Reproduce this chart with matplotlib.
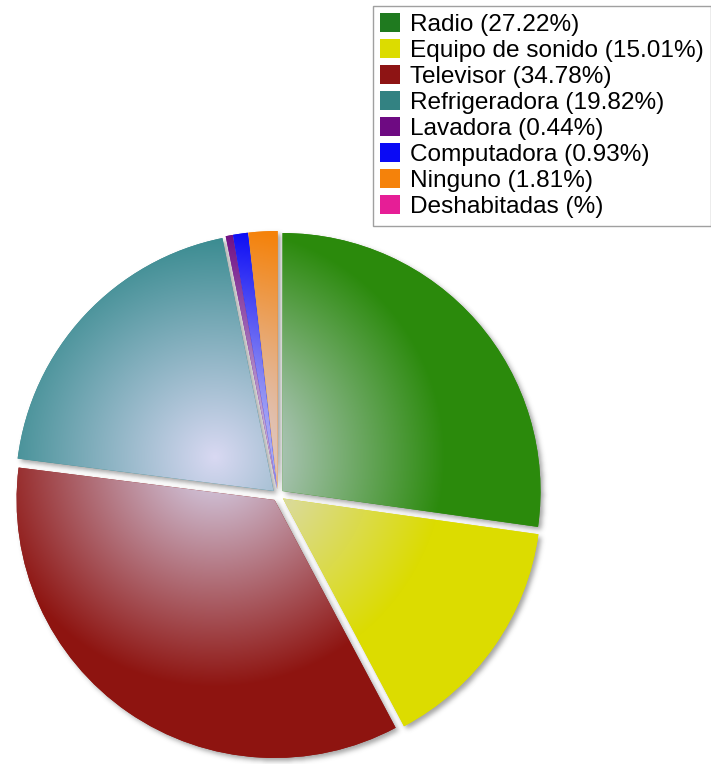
import numpy as np
import matplotlib
matplotlib.use("Agg")
import matplotlib.pyplot as plt
from matplotlib.patches import Patch
from matplotlib.colors import to_rgb

# Household goods share
categories = ["Radio", "Equipo de sonido", "Televisor", "Refrigeradora",
              "Lavadora", "Computadora", "Ninguno", "Deshabitadas"]
percentages = [27.22, 15.01, 34.78, 19.82, 0.44, 0.93, 1.81, 0.0]
legend_values = ["27.22", "15.01", "34.78", "19.82", "0.44", "0.93", "1.81", ""]
slice_colors = ["#2b8a0c", "#dcdc00", "#8e1410", "#33888c",
                "#6e0a82", "#0a0af5", "#f5820a", "#e61e96"]
legend_colors = ["#1f7a1f", "#dcdc00", "#8e1414", "#338282",
                 "#6e0a82", "#0a0af5", "#f5820a", "#e61e96"]

W, H = 711, 764
fig = plt.figure(figsize=(W / 100, H / 100), dpi=100)
ax = fig.add_axes([0, 0, 1, 1])

cx, cy, R = 278, 269, 258
wedges, _ = ax.pie(percentages, center=(cx, cy), radius=R, startangle=90,
                   counterclock=False, explode=[6] * len(percentages),
                   colors=slice_colors, wedgeprops=dict(linewidth=0),
                   frame=False)
ax.set_xlim(0, W)
ax.set_ylim(0, H)
ax.set_aspect("equal")
ax.axis("off")

# pixel grid in data coordinates
xs = np.arange(W) + 0.5
ys = np.arange(H) + 0.5
X, Y = np.meshgrid(xs, ys)
pts = np.column_stack([X.ravel(), Y.ravel()])

# soft drop shadow under the slices
mask = np.zeros(X.size, dtype=float)
for w in wedges:
    if w.theta2 - w.theta1 <= 0:
        continue
    p = w.get_path()
    mask = np.maximum(mask, p.contains_points(pts - np.array([3.0, -3.0])))
mask = mask.reshape(H, W)


def blur(img, sigma):
    rad = int(3 * sigma)
    k = np.exp(-0.5 * (np.arange(-rad, rad + 1) / sigma) ** 2)
    k /= k.sum()
    out = np.apply_along_axis(lambda r: np.convolve(r, k, mode="same"), 1, img)
    out = np.apply_along_axis(lambda c: np.convolve(c, k, mode="same"), 0, out)
    return out


shadow = blur(mask, 2.5)
shadow_rgba = np.zeros((H, W, 4))
shadow_rgba[..., :3] = 0.35
shadow_rgba[..., 3] = shadow * 0.55
ax.imshow(shadow_rgba, extent=(0, W, 0, H), origin="lower", zorder=0.5,
          interpolation="bilinear")

# radial highlight shared by all slices
fx, fy, gr = 215, 307, 230
dist = np.hypot(X - fx, Y - fy)
t = np.clip(dist / gr, 0, 1)[..., None]
light = np.array([0.85, 0.85, 0.95])
for w, c in zip(wedges, slice_colors):
    if w.theta2 - w.theta1 <= 0:
        continue
    base = np.array(to_rgb(c))
    img = light * (1 - t) + base * t
    im = ax.imshow(img, extent=(0, W, 0, H), origin="lower", zorder=2,
                   interpolation="bilinear")
    im.set_clip_path(w)

handles = [Patch(facecolor=c, edgecolor="none") for c in legend_colors]
labels = [f"{n} ({v}%)" for n, v in zip(categories, legend_values)]
leg = fig.legend(handles, labels, loc="upper left",
                 bbox_to_anchor=(373 / W, 1 - 6 / H), bbox_transform=fig.transFigure,
                 borderaxespad=0, frameon=True, fancybox=False,
                 handlelength=0.8, handleheight=0.8, handletextpad=0.4,
                 labelspacing=0.13, borderpad=0.3,
                 prop={"family": "Liberation Sans", "size": 17.6})
leg.get_frame().set_edgecolor("#888888")
leg.get_frame().set_linewidth(1.0)

fig.savefig("out.png", dpi=100)
